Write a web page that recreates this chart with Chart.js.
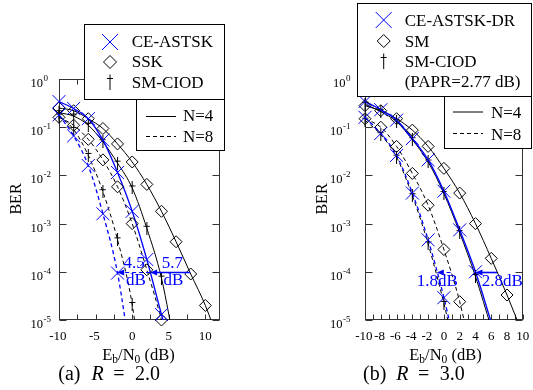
<!DOCTYPE html>
<html><head><meta charset="utf-8">
<script src="https://cdn.jsdelivr.net/npm/chart.js@4/dist/chart.umd.min.js"></script>
<style>
html,body{margin:0;padding:0;background:#fff;}
#wrap{position:relative;width:533px;height:390px;overflow:hidden;}
#wrap canvas{position:absolute;left:0;top:0;}
</style></head><body>
<div id="wrap"><canvas id="cA" width="533" height="390"></canvas><canvas id="cB" width="533" height="390"></canvas></div>
<script>
// ---------- data: panel (a) R = 2.0 ----------
const snrA = [-10, -8, -6, -4, -2, 0, 2, 4, 6, 8, 10, 12];
const berCeAstskA4 = [0.34, 0.245, 0.15, 0.054, 0.0115, 1.8e-3, 1.8e-4, 1.3e-5, 1e-6, null, null, null];
const berCeAstskA8 = [0.18, 0.066, 0.016, 1.6e-3, 9.4e-5, 1e-6, null, null, null, null, null, null];
const berSskA4 = [0.25, 0.22, 0.15, 0.094, 0.045, 0.019, 6.5e-3, 1.8e-3, 4.2e-4, 9e-5, 2e-5, 3e-6];
const berSskA8 = [0.16, 0.11, 0.056, 0.021, 5.8e-3, 1e-3, 1.1e-4, 1e-5, 5e-7, null, null, null];
const berCiodA4 = [0.2, 0.17, 0.11, 0.05, 0.018, 5.5e-3, 8e-4, 7.4e-5, 2e-6, null, null, null];
const berCiodA8 = [0.17, 0.09, 0.026, 4.6e-3, 4.6e-4, 2.1e-5, 1e-7, null, null, null, null, null];
const xTickMarksA = [-10, -7.5, -5, -2.5, 0, 2.5, 5, 7.5, 10];
const xTickLabelsA = [-10, -5, 0, 5, 10];
const gainArrowsA = [{from: 7.9, to: 2.45, y: 1e-4, dashed: false}, {from: 2.45, to: -2.05, y: 1e-4, dashed: true}];
const gainTextsA = [{t: '4.5', x: 0.25, dy: -8}, {t: 'dB', x: 0.52, dy: 9}, {t: '5.7', x: 5.5, dy: -8}, {t: 'dB', x: 5.65, dy: 9}];

// ---------- data: panel (b) R = 3.0 ----------
const snrB = [-10, -8, -6, -4, -2, 0, 2, 4, 6, 8, 10];
const berCeDrB4 = [0.34, 0.23, 0.14, 0.058, 0.021, 4.7e-3, 7.4e-4, 1.0e-4, 9e-6, null, null];
const berCeDrB8 = [0.16, 0.074, 0.026, 4.3e-3, 4.6e-4, 2.9e-5, 1e-6, null, null, null, null];
const berSmB4 = [0.28, 0.22, 0.15, 0.087, 0.04, 0.014, 4.3e-3, 1e-3, 1.9e-4, 3.3e-5, 5e-6];
const berSmB8 = [0.15, 0.10, 0.04, 0.011, 2.4e-3, 2.9e-4, 2.4e-5, 8e-7, null, null, null];
const berCiodB4 = [0.3, 0.21, 0.13, 0.055, 0.019, 4.2e-3, 6.5e-4, 8e-5, 7e-6, null, null];
const berCiodB8 = [0.14, 0.07, 0.024, 3.8e-3, 3.8e-4, 2.2e-5, 8e-7, null, null, null, null];
const xTickMarksB = [-10, -9, -8, -7, -6, -5, -4, -3, -2, -1, 0, 1, 2, 3, 4, 5, 6, 7, 8, 9, 10];
const xTickLabelsB = [-10, -8, -6, -4, -2, 0, 2, 4, 6, 8, 10];
const gainArrowsB = [{from: 6.73, to: 4.0, y: 1e-4, dashed: false}, {from: 0.85, to: -0.9, y: 1e-4, dashed: true}];
const gainTextsB = [{t: '1.8dB', x: -0.84, dy: 10}, {t: '2.8dB', x: 7.41, dy: 10}];

// ---------- shared ----------
const yTickValues = [1, 1e-1, 1e-2, 1e-3, 1e-4, 1e-5];
const yTickExps = ['0', '-1', '-2', '-3', '-4', '-5'];

const F = '"Liberation Serif", "Times New Roman", serif';
const BLUE = '#0000ff';
const BLACK = '#000000';

// dagger marker
const dag = document.createElement('canvas');
dag.width = 7; dag.height = 13;
(function(){ const c = dag.getContext('2d'); c.strokeStyle = '#000'; c.lineWidth = 1;
  c.beginPath(); c.moveTo(3.5, 0); c.lineTo(3.5, 13); c.moveTo(0.5, 4.5); c.lineTo(6.5, 4.5); c.stroke(); })();

function drawMarker(ctx, type, x, y, color) {
  ctx.save(); ctx.strokeStyle = color; ctx.lineWidth = 1; ctx.setLineDash([]); ctx.beginPath();
  if (type === 'x') { const h = 8; ctx.moveTo(x-h, y-h); ctx.lineTo(x+h, y+h); ctx.moveTo(x+h, y-h); ctx.lineTo(x-h, y+h); }
  else if (type === 'd') { const r = 6.5; ctx.moveTo(x-r, y); ctx.lineTo(x, y-r); ctx.lineTo(x+r, y); ctx.lineTo(x, y+r); ctx.closePath(); }
  else { ctx.moveTo(x, y-7.5); ctx.lineTo(x, y+8); ctx.moveTo(x-3, y-3.5); ctx.lineTo(x+3, y-3.5); }
  ctx.stroke(); ctx.restore();
}

function drawLegend(ctx, L) {
  ctx.save();
  ctx.lineWidth = 1; ctx.strokeStyle = '#000'; ctx.fillStyle = '#fff';
  [L.box1, L.box2].forEach(b => { ctx.fillRect(b[0], b[1], b[2], b[3]); });
  [L.box1, L.box2].forEach(b => { ctx.strokeRect(b[0]+0.5, b[1]+0.5, b[2], b[3]); });
  ctx.font = '17px ' + F; ctx.textAlign = 'left'; ctx.textBaseline = 'alphabetic'; ctx.fillStyle = '#000';
  L.items.forEach(it => {
    if (it.m) drawMarker(ctx, it.m, L.mx, it.my, it.c);
    ctx.fillText(it.t, L.tx, it.ty);
  });
  L.lines.forEach(ln => {
    ctx.save(); ctx.strokeStyle = '#000'; ctx.lineWidth = 1; ctx.setLineDash(ln.dash);
    ctx.beginPath(); ctx.moveTo(L.lx0, ln.y + 0.5); ctx.lineTo(L.lx1, ln.y + 0.5); ctx.stroke(); ctx.restore();
    ctx.fillText(ln.t, L.ltx, ln.ty);
  });
  ctx.restore();
}

function drawEbN0(ctx, cx, base) {
  const parts = [['E', 16.5, 0], ['b', 11.5, 3], ['/N', 16.5, 0], ['0', 11.5, 3], [' (dB)', 16.5, 0]];
  let w = 0;
  parts.forEach(p => { ctx.font = p[1] + 'px ' + F; w += ctx.measureText(p[0]).width; });
  let x = cx - w / 2; ctx.textAlign = 'left'; ctx.textBaseline = 'alphabetic';
  parts.forEach(p => { ctx.font = p[1] + 'px ' + F; ctx.fillText(p[0], x, base + p[2]); x += ctx.measureText(p[0]).width; });
}

function panelPlugin(P) {
  return {
    id: 'panel' + P.key,
    beforeDatasetsDraw(chart) {
      const ctx = chart.ctx, a = chart.chartArea, xs = chart.scales.x, ys = chart.scales.y;
      ctx.save();
      ctx.strokeStyle = '#333'; ctx.lineWidth = 1;
      const L = Math.round(a.left) + 0.5, R = Math.round(a.right) - 0.5, T = Math.round(a.top) + 0.5, B = Math.round(a.bottom) - 0.5;
      ctx.strokeRect(L, T, R - L, B - T);
      ctx.beginPath();
      P.xMarks.forEach(v => { const px = Math.round(xs.getPixelForValue(v)) + 0.5;
        ctx.moveTo(px, B); ctx.lineTo(px, B - 5); ctx.moveTo(px, T); ctx.lineTo(px, T + 5); });
      yTickValues.forEach(v => { const py = Math.round(ys.getPixelForValue(v)) + 0.5;
        ctx.moveTo(L, py); ctx.lineTo(L + 7, py); ctx.moveTo(R, py); ctx.lineTo(R - 7, py); });
      ctx.stroke();
      ctx.fillStyle = '#000';
      ctx.textBaseline = 'alphabetic';
      ctx.textAlign = 'center'; ctx.font = '13px ' + F;
      P.xLabels.forEach(v => {
        const s = String(v);
        const shift = v < 0 ? ctx.measureText('-').width / 2 - 1 : 0;
        ctx.fillText(s, xs.getPixelForValue(v) - shift, a.bottom + 20);
      });
      yTickValues.forEach((v, i) => {
        const py = ys.getPixelForValue(v);
        ctx.font = '9px ' + F; const we = ctx.measureText(yTickExps[i]).width;
        ctx.font = '12.5px ' + F; const wb = ctx.measureText('10').width;
        let xl;
        if (P.yAlign === 'left') xl = P.yLeftX; else xl = a.left - P.yGap - we - 0.5 - wb;
        ctx.textAlign = 'left';
        ctx.fillText('10', xl, py + 8);
        ctx.font = '9px ' + F; ctx.fillText(yTickExps[i], xl + wb + 0.5, py + 2);
      });
      // titles
      ctx.save(); ctx.translate(P.berX, 199); ctx.rotate(-Math.PI / 2);
      ctx.textAlign = 'center'; ctx.textBaseline = 'middle'; ctx.font = '16px ' + F; ctx.fillText('BER', 0, 0); ctx.restore();
      drawEbN0(ctx, P.titleX, 360);
      const x0 = P.capX;
      ctx.textAlign = 'left'; ctx.textBaseline = 'alphabetic';
      ctx.font = '20px ' + F; ctx.fillText(P.capLetter, x0, 380);
      ctx.font = 'italic 20px ' + F; ctx.fillText('R', x0 + 33.3, 380);
      ctx.font = '20px ' + F; ctx.fillText('=', x0 + 55, 380); ctx.fillText(P.capValue, x0 + 76.7, 380);
      ctx.restore();
    },
    afterDatasetsDraw(chart) {
      const ctx = chart.ctx, xs = chart.scales.x, ys = chart.scales.y;
      ctx.save();
      ctx.strokeStyle = BLUE; ctx.fillStyle = BLUE;
      P.arrows.forEach(ar => {
        const y = Math.round(ys.getPixelForValue(ar.y)) + 0.5, x0 = xs.getPixelForValue(ar.from), x1 = xs.getPixelForValue(ar.to);
        ctx.lineWidth = ar.dashed ? 1.2 : 1.6; ctx.setLineDash(ar.dashed ? [4, 3] : []);
        ctx.beginPath(); ctx.moveTo(x0, y); ctx.lineTo(x1 + 5, y); ctx.stroke(); ctx.setLineDash([]);
        ctx.beginPath(); ctx.moveTo(x1, y); ctx.lineTo(x1 + 7, y - 3); ctx.lineTo(x1 + 7, y + 3); ctx.closePath(); ctx.fill();
      });
      ctx.font = '17px ' + F; ctx.textAlign = 'center'; ctx.textBaseline = 'middle';
      P.texts.forEach(t => ctx.fillText(t.t, xs.getPixelForValue(t.x), ys.getPixelForValue(1e-4) + t.dy));
      ctx.restore();
      drawLegend(ctx, P.legend);
    }
  };
}

function makeChart(id, P) {
  const datasets = [];
  P.series.forEach(s => {
    const pts = P.x.map((x, i) => ({x: x, y: s.y[i]})).filter(p => p.y !== null);
    datasets.push({ data: pts, borderColor: s.c, borderWidth: s.lw, borderDash: s.dash, pointRadius: 0,
      fill: false, clip: 0, cubicInterpolationMode: 'monotone', order: 1 });
    datasets.push({ data: pts.filter(p => p.y >= 1e-5), showLine: false, pointStyle: s.m, pointRadius: s.r,
      pointBorderColor: s.c, pointBackgroundColor: 'rgba(0,0,0,0)', pointBorderWidth: 1, clip: false, order: 0 });
  });
  return new Chart(document.getElementById(id), {
    type: 'line',
    data: { datasets: datasets },
    options: {
      responsive: false, animation: false, events: [],
      layout: { padding: { left: P.area[0], top: P.area[1], right: 533 - P.area[2], bottom: 390 - P.area[3] } },
      scales: {
        x: { type: 'linear', min: P.xMin, max: P.xMax, display: false },
        y: { type: 'logarithmic', min: 1e-5, max: 1, display: false }
      },
      plugins: { legend: { display: false }, tooltip: { enabled: false } }
    },
    plugins: [panelPlugin(P)]
  });
}

const dash = [4, 3];
makeChart('cA', {
  key: 'A', x: snrA, xMin: -10, xMax: 12, area: [59, 79, 220, 320],
  series: [
    { y: berCeAstskA4, c: BLUE, lw: 1.3, dash: [], m: 'crossRot', r: 9.2 },
    { y: berCeAstskA8, c: BLUE, lw: 1.3, dash: dash, m: 'crossRot', r: 9.2 },
    { y: berSskA4, c: BLACK, lw: 1, dash: [], m: 'rectRot', r: 6 },
    { y: berSskA8, c: BLACK, lw: 1, dash: dash, m: 'rectRot', r: 6 },
    { y: berCiodA4, c: BLACK, lw: 1, dash: [], m: dag, r: 6 },
    { y: berCiodA8, c: BLACK, lw: 1, dash: dash, m: dag, r: 6 }
  ],
  xMarks: xTickMarksA, xLabels: xTickLabelsA, yAlign: 'left', yLeftX: 30.5, yGap: 10, berX: 17, titleX: 138.5,
  capX: 58.3, capLetter: '(a)', capValue: '2.0',
  arrows: gainArrowsA, texts: gainTextsA,
  legend: {
    box1: [84, 24, 140, 75], box2: [136, 99, 88, 51], mx: 110, tx: 131.7,
    items: [ { m: 'x', c: BLUE, t: 'CE-ASTSK', my: 42, ty: 47 },
             { m: 'd', c: BLACK, t: 'SSK', my: 62, ty: 67 },
             { m: 'g', c: BLACK, t: 'SM-CIOD', my: 82, ty: 87.5 } ],
    lx0: 146, lx1: 176, ltx: 183,
    lines: [ { dash: [], y: 116, ty: 120.5, t: 'N=4' }, { dash: dash, y: 136, ty: 141.5, t: 'N=8' } ]
  }
});
makeChart('cB', {
  key: 'B', x: snrB, xMin: -10, xMax: 10, area: [365, 79, 525, 320],
  series: [
    { y: berCeDrB4, c: BLUE, lw: 1.4, dash: [], m: 'crossRot', r: 9.2 },
    { y: berCeDrB8, c: BLUE, lw: 1.3, dash: dash, m: 'crossRot', r: 9.2 },
    { y: berSmB4, c: BLACK, lw: 1, dash: [], m: 'rectRot', r: 6 },
    { y: berSmB8, c: BLACK, lw: 1, dash: dash, m: 'rectRot', r: 6 },
    { y: berCiodB4, c: BLACK, lw: 1, dash: [], m: dag, r: 6 },
    { y: berCiodB8, c: BLACK, lw: 1, dash: dash, m: dag, r: 6 }
  ],
  xMarks: xTickMarksB, xLabels: xTickLabelsB, yAlign: 'right', yGap: 14.5, berX: 323, titleX: 445.5,
  capX: 363, capLetter: '(b)', capValue: '3.0',
  arrows: gainArrowsB, texts: gainTextsB,
  legend: {
    box1: [357, 3, 174, 93], box2: [444, 96, 87, 52], mx: 383.7, tx: 404.7,
    items: [ { m: 'x', c: BLUE, t: 'CE-ASTSK-DR', my: 20, ty: 26 },
             { m: 'd', c: BLACK, t: 'SM', my: 41, ty: 46.7 },
             { m: 'g', c: BLACK, t: 'SM-CIOD', my: 61, ty: 66.7 },
             { m: null, c: BLACK, t: '(PAPR=2.77 dB)', my: 0, ty: 87 } ],
    lx0: 453, lx1: 483, ltx: 491,
    lines: [ { dash: [], y: 111.5, ty: 118, t: 'N=4' }, { dash: dash, y: 133, ty: 140, t: 'N=8' } ]
  }
});
</script>
</body></html>
